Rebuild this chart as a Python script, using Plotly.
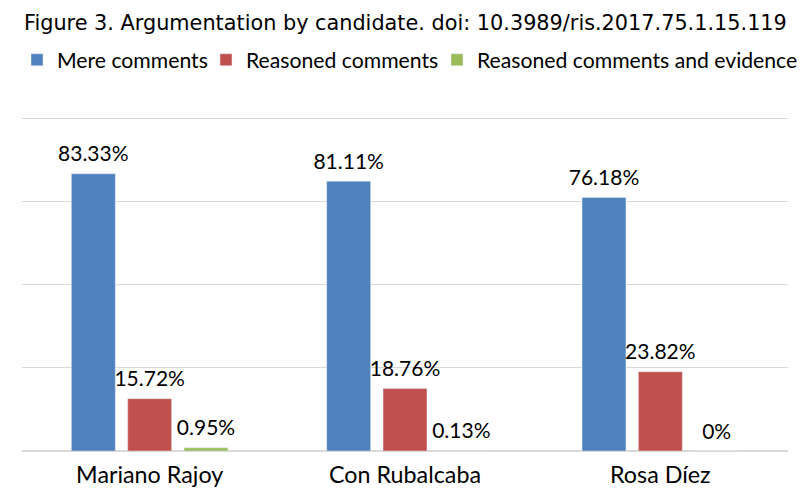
import plotly.graph_objects as go

candidates = ["Mariano Rajoy", "Con Rubalcaba", "Rosa Díez"]
mere = [83.33, 81.11, 76.18]
reasoned = [15.72, 18.76, 23.82]
evidence = [0.95, 0.13, 0]

series = [
    ("Mere comments", mere, "#4F81BD"),
    ("Reasoned comments", reasoned, "#C0504D"),
    ("Reasoned comments and evidence", evidence, "#9BBB59"),
]

FONT = "Lato"
# the page body has an 8px margin, so the figure is a bit smaller than the window
W, H = 803, 495
# one legend per series so the row does not wrap (left edges in px)
legend_x = [9, 198, 429]

fig = go.Figure()
for i, (name, vals, col) in enumerate(series):
    lg = "legend" if i == 0 else f"legend{i + 1}"
    fig.add_trace(go.Bar(
        x=candidates, y=vals, name=name, marker_color=col,
        offsetgroup=str(i), legend=lg,
    ))
    # value labels, sitting a bit above each bar
    fig.add_trace(go.Scatter(
        x=candidates, y=vals, mode="markers+text", offsetgroup=str(i),
        text=[f"{v:g}%" for v in vals], textposition="top center",
        textfont=dict(family=FONT, size=21, color="#000000"),
        marker=dict(size=10, opacity=0), showlegend=False,
        hoverinfo="skip", cliponaxis=False,
    ))
    fig.update_layout({lg: dict(
        orientation="h", xref="container", yref="container",
        x=legend_x[i] / W, xanchor="left", y=1 - 52 / H, yanchor="middle",
        bgcolor="rgba(0,0,0,0)",
        font=dict(family=FONT, size=21.2, color="#000000"),
    )})

fig.update_layout(
    width=W, height=H,
    margin=dict(l=14, r=23, t=107, b=52, autoexpand=False),
    paper_bgcolor="white", plot_bgcolor="white",
    font=dict(family=FONT, size=21, color="#000000"),
    title=dict(text="Figure 3. Argumentation by candidate. doi: 10.3989/ris.2017.75.1.15.119",
               x=16 / W, xanchor="left", xref="container",
               y=1 - 15 / H, yanchor="middle", yref="container",
               font=dict(family="DejaVu Sans", size=20.8, color="#000000")),
    barmode="group", bargap=0.338, bargroupgap=0.22,
    scattermode="group", scattergap=0.338,
    showlegend=True,
)
fig.update_xaxes(showgrid=False, showline=False, ticks="", ticklabelstandoff=8,
                 tickfont=dict(family=FONT, size=23.3))
fig.update_yaxes(range=[0, 101], tickvals=[0, 25, 50, 75, 100], showgrid=True,
                 gridcolor="#D9D9D9", showticklabels=False, zeroline=True,
                 zerolinecolor="#D9D9D9", showline=False)

fig.write_html("out.html")
